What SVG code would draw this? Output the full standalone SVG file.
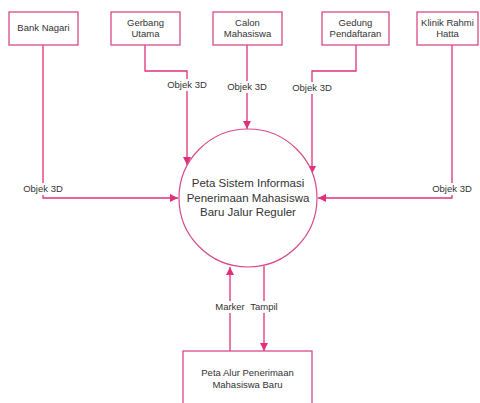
<svg xmlns="http://www.w3.org/2000/svg" width="480" height="403" viewBox="0 0 480 403">
<defs>
<style>
.box{fill:#fff;stroke:#d84a8a;stroke-width:1.3}
.proc{fill:#fff;stroke:#d84a8a;stroke-width:1.2}
.ln{fill:none;stroke:#e0307c;stroke-width:1.3}
.bg{fill:#fff}
.t{font-family:"Liberation Sans",Arial,sans-serif;font-size:9.5px;fill:#333;text-anchor:middle}
.tc{font-family:"Liberation Sans",Arial,sans-serif;font-size:11.5px;fill:#333;text-anchor:middle}
</style>
<marker id="ah" viewBox="0 0 10 10" refX="10" refY="5" markerWidth="8" markerHeight="8" markerUnits="userSpaceOnUse" orient="auto">
<path d="M0,0 L10,5 L0,10 z" fill="#e0307c"/>
</marker>
</defs>
<rect width="480" height="403" fill="#fff"/>
<g id="connectors">
<polyline class="ln" points="43,45 43,198 178,198" marker-end="url(#ah)"/>
<polyline class="ln" points="145,45 145,71 187,71 187,165" marker-end="url(#ah)"/>
<polyline class="ln" points="247,45 247,129" marker-end="url(#ah)"/>
<polyline class="ln" points="356,45 356,71 312,71 312,174" marker-end="url(#ah)"/>
<polyline class="ln" points="452,45 452,198 318,198" marker-end="url(#ah)"/>
<polyline class="ln" points="230,351 230,267" marker-end="url(#ah)"/>
<polyline class="ln" points="264,266 264,351" marker-end="url(#ah)"/>
<rect class="bg" x="23" y="183" width="40" height="12"/>
<rect class="bg" x="167" y="79" width="40" height="12"/>
<rect class="bg" x="227" y="81" width="40" height="12"/>
<rect class="bg" x="292" y="82" width="40" height="12"/>
<rect class="bg" x="432" y="183" width="40" height="12"/>
<rect class="bg" x="213" y="301" width="34" height="12"/>
<rect class="bg" x="249" y="301" width="30" height="12"/>
<text class="t" x="43" y="192">Objek 3D</text>
<text class="t" x="187" y="88">Objek 3D</text>
<text class="t" x="247" y="90">Objek 3D</text>
<text class="t" x="312" y="91">Objek 3D</text>
<text class="t" x="452" y="192">Objek 3D</text>
<text class="t" x="230" y="310">Marker</text>
<text class="t" x="264" y="310">Tampil</text>
</g>
<g id="bank-nagari">
<rect class="box" x="9" y="12" width="69" height="33"/>
<text class="t" x="43.5" y="31">Bank Nagari</text>
</g>
<g id="gerbang-utama">
<rect class="box" x="111" y="12" width="69" height="33"/>
<text class="t" x="145.5" y="26">Gerbang</text>
<text class="t" x="145.5" y="37">Utama</text>
</g>
<g id="calon-mahasiswa">
<rect class="box" x="213" y="12" width="69" height="33"/>
<text class="t" x="247.5" y="26">Calon</text>
<text class="t" x="247.5" y="37">Mahasiswa</text>
</g>
<g id="gedung-pendaftaran">
<rect class="box" x="322" y="12" width="67" height="33"/>
<text class="t" x="355.5" y="26">Gedung</text>
<text class="t" x="355.5" y="37">Pendaftaran</text>
</g>
<g id="klinik-rahmi-hatta">
<rect class="box" x="417" y="12" width="61" height="33"/>
<text class="t" x="447.5" y="26">Klinik Rahmi</text>
<text class="t" x="447.5" y="37">Hatta</text>
</g>
<g id="proses">
<circle class="proc" cx="248" cy="198" r="69"/>
<text class="tc" x="248" y="187">Peta Sistem Informasi</text>
<text class="tc" x="248" y="202">Penerimaan Mahasiswa</text>
<text class="tc" x="248" y="216">Baru Jalur Reguler</text>
</g>
<g id="peta-alur">
<rect class="box" x="183" y="351" width="129" height="60"/>
<text class="t" x="247.5" y="376">Peta Alur Penerimaan</text>
<text class="t" x="247.5" y="388">Mahasiswa Baru</text>
</g>
</svg>
